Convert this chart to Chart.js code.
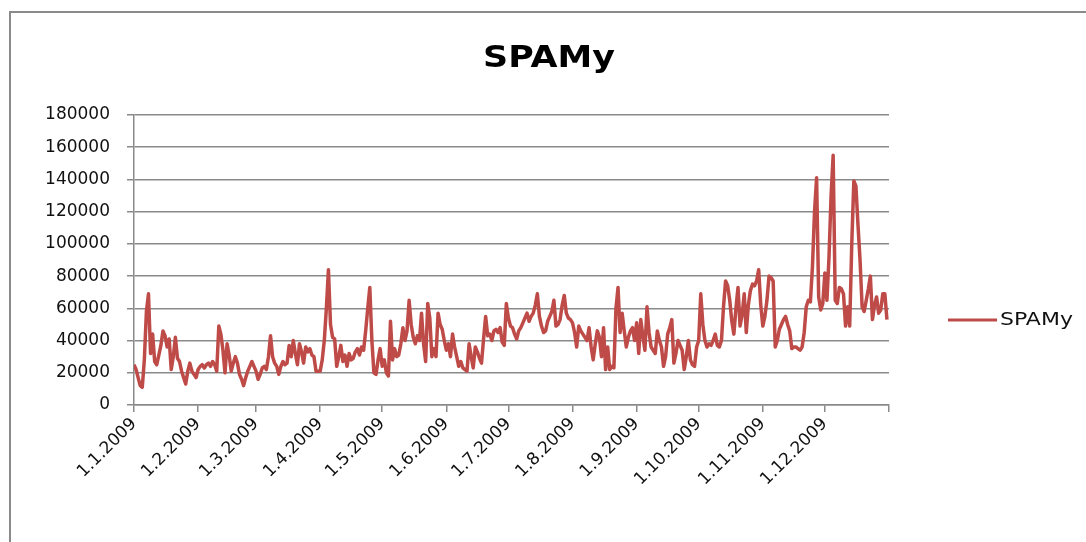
<!DOCTYPE html>
<html lang="cs">
<head>
<meta charset="UTF-8">
<title>SPAMy</title>
<script src="https://cdn.jsdelivr.net/npm/chart.js@4.4.1/dist/chart.umd.min.js"></script>
<style>
  html, body { margin: 0; padding: 0; background: #fff; }
  body { width: 1086px; height: 542px; position: relative; overflow: hidden; }
  .ramecek { position: absolute; left: 9px; top: 11px; width: 1200px; height: 700px; border: 2px solid #8a8a8a; box-sizing: border-box; }
  #graf { position: absolute; left: 0; top: 0; }
</style>
</head>
<body>
<div class="ramecek"></div>
<canvas id="graf" width="1086" height="542"></canvas>

<script>
// denni pocty spamu 2009 (po mesicich)
const leden = [25000, 22000, 17000, 12000, 11000, 28000, 58000, 69000, 32000, 44000, 27000, 25000, 31000, 37000, 46000, 43000,
  36000, 41000, 22000, 30000, 42000, 29000, 27000, 21000, 17000, 13000, 21000, 26000, 21000, 19000, 17000];
const unor = [22000, 24000, 25000, 23000, 25000, 26000, 24000, 27000, 25000, 21000, 49000, 44000, 34000, 20000, 38000, 31000,
  21000, 26000, 30000, 26000, 19000, 16000, 12000, 17000, 21000, 24000, 27000, 24000];
const brezen = [21000, 16000, 19000, 23000, 24000, 22000, 30000, 43000, 30000, 26000, 24000, 19000, 24000, 27000, 25000, 26000,
  37000, 30000, 40000, 32000, 25000, 38000, 33000, 26000, 36000, 33000, 35000, 31000, 30000, 21000, 21000];
const duben = [21000, 28000, 40000, 60000, 84000, 50000, 42000, 41000, 24000, 30000, 37000, 27000, 31000, 24000, 32000, 28000,
  29000, 33000, 35000, 31000, 36000, 34000, 46000, 60000, 73000, 40000, 20000, 19000, 28000, 35000];
const kveten = [24000, 28000, 20000, 18000, 52000, 28000, 35000, 30000, 31000, 38000, 48000, 40000, 46000, 65000, 50000, 42000,
  38000, 43000, 40000, 57000, 38000, 27000, 63000, 54000, 30000, 35000, 30000, 57000, 50000, 47000, 40000];
const cerven = [34000, 38000, 30000, 44000, 36000, 30000, 24000, 27000, 23000, 22000, 21000, 38000, 30000, 23000, 36000, 33000,
  29000, 26000, 41000, 55000, 43000, 44000, 40000, 46000, 47000, 45000, 48000, 39000, 37000, 63000];
const cervenec = [54000, 49000, 48000, 44000, 41000, 46000, 48000, 51000, 54000, 57000, 52000, 55000, 57000, 62000, 69000, 55000,
  49000, 45000, 46000, 52000, 55000, 58000, 65000, 49000, 50000, 53000, 62000, 68000, 57000, 54000, 53000];
const srpen = [51000, 45000, 36000, 49000, 46000, 44000, 42000, 40000, 48000, 36000, 28000, 38000, 46000, 42000, 30000, 48000,
  22000, 36000, 22000, 24000, 23000, 60000, 73000, 45000, 57000, 46000, 36000, 42000, 46000, 48000, 40000];
const zari = [51000, 32000, 53000, 43000, 34000, 61000, 45000, 36000, 34000, 32000, 46000, 40000, 36000, 24000, 30000, 44000,
  48000, 53000, 26000, 32000, 40000, 37000, 34000, 22000, 30000, 40000, 28000, 25000, 24000, 36000];
const rijen = [40000, 69000, 50000, 40000, 36000, 38000, 37000, 40000, 44000, 37000, 36000, 40000, 61000, 77000, 74000, 65000,
  52000, 44000, 60000, 73000, 49000, 56000, 69000, 45000, 62000, 71000, 75000, 74000, 77000, 84000, 62000];
const listopad = [49000, 55000, 65000, 80000, 79000, 77000, 36000, 40000, 47000, 50000, 53000, 55000, 50000, 46000, 35000, 36000,
  36000, 35000, 34000, 36000, 45000, 61000, 65000, 64000, 86000, 120000, 141000, 67000, 59000, 63000];
const prosinec = [82000, 65000, 92000, 130000, 155000, 65000, 63000, 73000, 72000, 69000, 49000, 61000, 49000, 100000, 139000, 136000,
  112000, 90000, 61000, 58000, 65000, 72000, 80000, 53000, 62000, 67000, 57000, 59000, 69000, 69000, 53000];

const mesice = [leden, unor, brezen, duben, kveten, cerven, cervenec, srpen, zari, rijen, listopad, prosinec];
const popiskyX = ['1.1.2009', '1.2.2009', '1.3.2009', '1.4.2009', '1.5.2009', '1.6.2009',
  '1.7.2009', '1.8.2009', '1.9.2009', '1.10.2009', '1.11.2009', '1.12.2009'];
const hodnotyY = [0, 20000, 40000, 60000, 80000, 100000, 120000, 140000, 160000, 180000];
const nazevRady = 'SPAMy';

// zacatky mesicu (index dne) + konec roku
const zacatky = [0];
mesice.forEach(m => zacatky.push(zacatky[zacatky.length - 1] + m.length));
const body = [].concat(...mesice).map((v, i) => ({ x: i, y: v }));

const seda = '#8a8a8a';
const pismo = "'DejaVu Sans', sans-serif";

// nadpis a legenda kreslim sam (obrazek je roztazeny do sirky)
const popisky = {
  id: 'popisky',
  afterDraw(chart) {
    const c = chart.ctx;
    c.save();
    c.fillStyle = '#000';
    c.font = "bold 30px " + pismo;
    c.textBaseline = 'alphabetic';
    let w = c.measureText(nazevRady).width;
    c.translate(549, 67);
    c.scale(132 / w, 1);
    c.textAlign = 'center';
    c.fillText(nazevRady, 0, 0);
    c.restore();

    c.save();
    c.strokeStyle = chart.data.datasets[0].borderColor;
    c.lineWidth = 3;
    c.beginPath();
    c.moveTo(948, 320);
    c.lineTo(997, 320);
    c.stroke();
    c.font = "17px " + pismo;
    c.fillStyle = '#111';
    c.textBaseline = 'middle';
    w = c.measureText(chart.data.datasets[0].label).width;
    c.translate(1000, 321);
    c.scale(73 / w, 1);
    c.fillText(chart.data.datasets[0].label, 0, 0);
    c.restore();
  }
};

new Chart(document.getElementById('graf'), {
  type: 'line',
  data: {
    datasets: [{
      label: nazevRady,
      data: body,
      borderColor: '#BE4B48',
      borderWidth: 3.5,
      pointRadius: 0,
      tension: 0,
      borderJoinStyle: 'round',
      fill: false
    }]
  },
  options: {
    responsive: false,
    animation: false,
    layout: { padding: { top: 115, right: 197, left: 0, bottom: 0 } },
    plugins: {
      legend: { display: false },
      title: { display: false },
      tooltip: { enabled: false }
    },
    scales: {
      x: {
        type: 'linear',
        min: 0,
        max: zacatky[zacatky.length - 1],
        afterBuildTicks: s => { s.ticks = zacatky.map(v => ({ value: v })); },
        afterFit: s => { s.height = 137; },
        ticks: {
          autoSkip: false,
          minRotation: 45,
          maxRotation: 45,
          padding: 2,
          color: '#111',
          font: { family: pismo, size: 17 },
          callback: (v, i) => popiskyX[i] || ''
        },
        grid: { drawOnChartArea: false, drawTicks: true, tickLength: 7, color: seda, lineWidth: 1.5 },
        border: { color: seda, width: 1.5 }
      },
      y: {
        min: 0,
        max: hodnotyY[hodnotyY.length - 1],
        afterBuildTicks: s => { s.ticks = hodnotyY.map(v => ({ value: v })); },
        afterFit: s => { s.width = 134; },
        ticks: {
          padding: 17,
          color: '#111',
          font: { family: pismo, size: 17 },
          callback: v => String(v)
        },
        grid: { color: seda, lineWidth: 1.5, tickLength: 7 },
        border: { color: seda, width: 1.5 }
      }
    }
  },
  plugins: [popisky]
});
</script>
</body>
</html>
